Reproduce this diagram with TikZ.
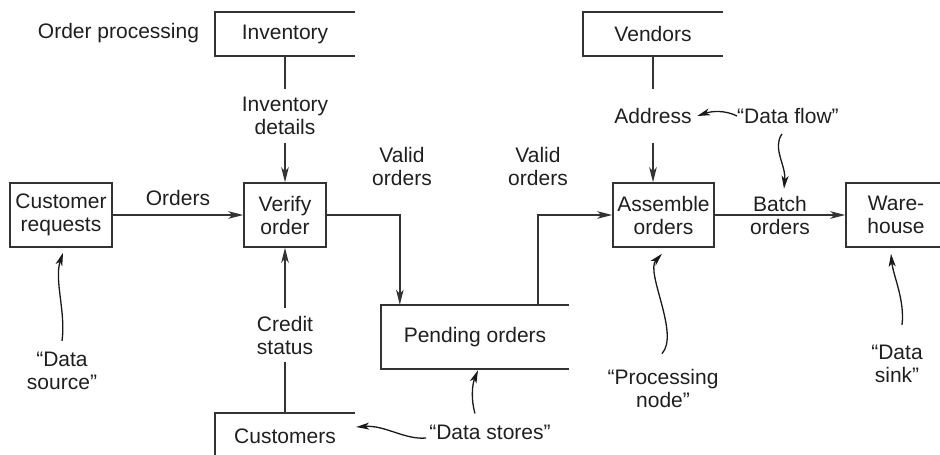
\documentclass[tikz,border=0pt]{standalone}
\usepackage{fontspec}
\setmainfont{Liberation Sans}
\usetikzlibrary{arrows.meta}
\begin{document}
\begin{tikzpicture}[x=1pt,y=-1pt,
  every node/.style={font=\fontsize{21}{23}\selectfont, text=black!88},
  ln/.style={draw=black!80, line width=1.5pt},
  proc/.style={ln, minimum height=64pt, inner sep=0pt, align=center},
  store/.style={minimum height=44pt, inner sep=0pt},
  flowlbl/.style={align=center, inner xsep=2pt},
  note/.style={align=center, inner sep=3pt},
  arr/.style={ln, -{Stealth[length=15pt,width=7.5pt,inset=4pt]}},
  notearr/.style={draw=black!90, line width=1.3pt, -{Stealth[length=13pt,width=7pt,inset=3.5pt]}},
]
\useasboundingbox (0,0) rectangle (940,455);

% title
\node (title) at (118.5,33) {Order processing};

% process boxes
\node[proc, minimum width=102pt] (creq) at (61,215) {Customer\\requests};
\node[proc, minimum width=82pt] (verify) at (285,215) {Verify\\order};
\node[proc, minimum width=101pt] (asm) at (663.5,215) {Assemble\\orders};
\node[proc, minimum width=100pt] (wh) at (896,215) {Ware-\\house};

% data stores
\node[store, minimum width=140pt] (inv) at (285,34) {Inventory};
\draw[ln] (inv.north east) -- (inv.north west) -- (inv.south west) -- (inv.south east);
\node[store, minimum width=140pt] (ven) at (653,34) {Vendors};
\draw[ln] (ven.north east) -- (ven.north west) -- (ven.south west) -- (ven.south east);
\node[store, minimum width=140pt, minimum height=46pt] (cust) at (285,436) {Customers};
\draw[ln] (cust.north east) -- (cust.north west) -- (cust.south west);
\node[store, minimum width=188pt, minimum height=64pt] (pend) at (475,337) {Pending orders};
\draw[ln] (pend.north east) -- (pend.north west) -- (pend.south west) -- (pend.south east);

% flows
\node[flowlbl, inner ysep=8pt] (invd) at (285,116) {Inventory\\details};
\draw[ln] (inv) -- (invd);
\draw[arr] (invd) -- (verify);

\node[flowlbl, inner ysep=8pt] (cred) at (285,335) {Credit\\status};
\draw[ln] (cust) -- (cred);
\draw[arr] (cred) -- (verify);

\node[flowlbl, inner ysep=19pt] (addr) at (653,116) {Address};
\draw[ln] (ven) -- (addr);
\draw[arr] (addr.south) -- (addr.south |- asm.north);

\node (ordl) at (178,198) {Orders};
\draw[arr] (creq) -- (verify);

\node[align=center] (val1) at (402,166) {Valid\\orders};
\draw[arr] (verify.east) -| ([xshift=19pt]pend.north west);

\node[align=center] (val2) at (538,166) {Valid\\orders};
\draw[arr] ([xshift=-31pt]pend.north east) |- (asm.west);

\draw[arr] (asm) -- node[align=center] (batch) {Batch\\orders} (wh);

% annotations
\node[note] (dsrc) at (62,371) {“Data\\source”};
\draw[notearr] ([yshift=8pt]dsrc.north) .. controls (66,312) and (54,280) .. ([xshift=2pt,yshift=-5pt]creq.south);

\node[note] (pnode) at (663,388) {“Processing\\node”};
\draw[notearr] ([xshift=-1pt,yshift=12pt]pnode.north) .. controls (680,334) and (645,272) .. ([xshift=-1.5pt,yshift=-6pt]asm.south);

\node[note] (dsink) at (897,364) {“Data\\sink”};
\draw[notearr] ([xshift=5pt,yshift=17pt]dsink.north) .. controls (905,300) and (893,275) .. ([xshift=-5pt,yshift=-6pt]wh.south);

\node[note] (dstores) at (490,432) {“Data stores”};
\draw[notearr] ([yshift=-6pt]dstores.west) .. controls (405,440) and (385,425) .. ([xshift=1pt,yshift=9pt]cust.east);
\draw[notearr] ([xshift=-15pt,yshift=8pt]dstores.north) .. controls (471,400) and (472,385) .. ([xshift=3pt,yshift=-1pt]pend.south);

\node[note] (dflow) at (788,116) {“Data flow”};
\draw[notearr] ([xshift=3pt]dflow.west) .. controls (725,110) and (712,111) .. ([xshift=3.5pt]addr.east);
\draw[notearr] ([xshift=-6pt,yshift=-7pt]dflow.south) .. controls (772,148) and (786,165) .. ([xshift=4pt,yshift=3pt]batch.north);
\end{tikzpicture}
\end{document}
